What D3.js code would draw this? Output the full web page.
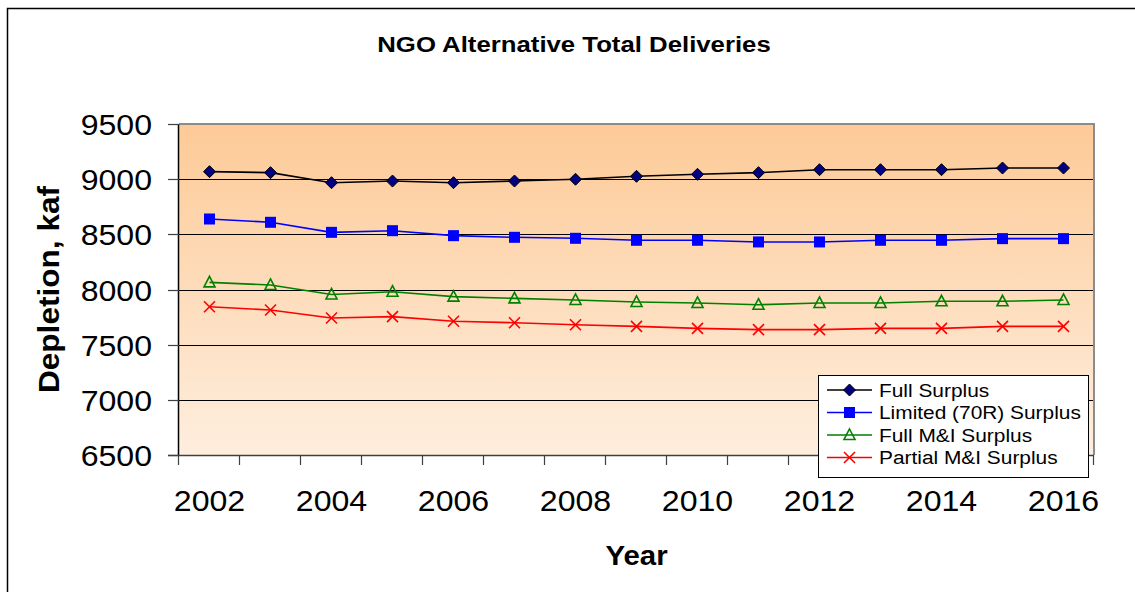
<!DOCTYPE html>
<html><head><meta charset="utf-8">
<script src="https://cdn.jsdelivr.net/npm/d3@7"></script>
<style>body{margin:0;background:#fff}svg{display:block}text{font-family:"Liberation Sans",Arial,sans-serif}</style>
</head><body>
<svg id="c" width="1135" height="592"></svg>
<script>
const years = [2002,2003,2004,2005,2006,2007,2008,2009,2010,2011,2012,2013,2014,2015,2016];
const yTicks = [6500,7000,7500,8000,8500,9000,9500];
const xLabelYears = [2002,2004,2006,2008,2010,2012,2014,2016];
const fullSurplus = [9068,9059,8968,8983,8968,8983,8999,9026,9044,9059,9086,9086,9086,9101,9101];
const limitedSurplus = [8639,8609,8518,8533,8488,8473,8464,8446,8446,8431,8431,8446,8446,8461,8461];
const fullMISurplus = [8065,8041,7955,7980,7935,7920,7905,7887,7878,7862,7878,7878,7893,7893,7905];
const partialMISurplus = [7844,7814,7742,7754,7712,7699,7681,7666,7648,7636,7636,7648,7648,7666,7666];
const seriesNames = ["Full Surplus","Limited (70R) Surplus","Full M&I Surplus","Partial M&I Surplus"];

const series = [
  {name: seriesNames[0], values: fullSurplus, color: "#000000", marker: "diamond"},
  {name: seriesNames[1], values: limitedSurplus, color: "#0000FF", marker: "square"},
  {name: seriesNames[2], values: fullMISurplus, color: "#008000", marker: "triangle"},
  {name: seriesNames[3], values: partialMISurplus, color: "#FF0000", marker: "x"}
];

const svg = d3.select("#c");
const L = 179, R = 1094, T = 124, B = 455;
const x = d3.scaleBand().domain(years).range([L, R]).padding(0);
const y = d3.scaleLinear().domain([6500, 9500]).range([B, T]);
const cx = d => x(d) + x.bandwidth() / 2;

// outer border
svg.append("path").attr("d", "M7.5,600 V8.5 H1140").attr("fill", "none").attr("stroke", "#000").attr("stroke-width", 1.5);

// gradient
const defs = svg.append("defs");
const g = defs.append("linearGradient").attr("id", "bg").attr("x1", 0).attr("y1", 0).attr("x2", 0).attr("y2", 1);
g.append("stop").attr("offset", "0%").attr("stop-color", "#FDCA97");
g.append("stop").attr("offset", "100%").attr("stop-color", "#FEEEDE");
svg.append("rect").attr("x", L).attr("y", T).attr("width", R - L).attr("height", B - T).attr("fill", "url(#bg)");

// gridlines
svg.append("g").selectAll("line").data(yTicks.filter(v => v > 6500 && v < 9500)).join("line")
  .attr("x1", L).attr("x2", R).attr("y1", d => Math.round(y(d)) + 0.5).attr("y2", d => Math.round(y(d)) + 0.5)
  .attr("stroke", "#000").attr("stroke-width", 1);

// plot border top/right gray
svg.append("path").attr("d", `M${L},${T} H${R} V${B}`).attr("fill", "none").attr("stroke", "#8c8c8c").attr("stroke-width", 2);

// y axis
const yAxis = svg.append("g");
yAxis.append("line").attr("x1", L - 0.5).attr("x2", L - 0.5).attr("y1", T).attr("y2", B).attr("stroke", "#000").attr("stroke-width", 1.5);
yAxis.selectAll("line.t").data(yTicks).join("line").attr("class", "t")
  .attr("x1", L - 11).attr("x2", L).attr("y1", d => Math.round(y(d)) + 0.5).attr("y2", d => Math.round(y(d)) + 0.5)
  .attr("stroke", "#404040").attr("stroke-width", 1.2);
yAxis.selectAll("text").data(yTicks).join("text")
  .attr("transform", d => `translate(152,${y(d) + 11}) scale(1.07,1)`)
  .attr("text-anchor", "end").attr("font-size", 30).attr("fill", "#000").text(d => d);

// x axis
const xAxis = svg.append("g");
xAxis.append("line").attr("x1", L - 11).attr("x2", R).attr("y1", B + 0.5).attr("y2", B + 0.5).attr("stroke", "#404040").attr("stroke-width", 1.5);
const bounds = years.map(d => x(d)).concat([x(years[years.length - 1]) + x.bandwidth()]);
xAxis.selectAll("line.t").data(bounds).join("line").attr("class", "t")
  .attr("x1", d => Math.round(d) - 0.5).attr("x2", d => Math.round(d) - 0.5).attr("y1", B).attr("y2", B + 10)
  .attr("stroke", "#404040").attr("stroke-width", 1.2);
xAxis.selectAll("text").data(xLabelYears).join("text")
  .attr("transform", d => `translate(${cx(d)},511) scale(1.07,1)`)
  .attr("text-anchor", "middle").attr("font-size", 30).attr("fill", "#000").text(d => d);

// titles
svg.append("text").attr("transform", "translate(574,52) scale(1.12,1)").attr("text-anchor", "middle")
  .attr("font-size", 23).attr("font-weight", "bold").text("NGO Alternative Total Deliveries");
svg.append("text").attr("transform", `translate(${(L + R) / 2},565) scale(1.09,1)`).attr("text-anchor", "middle")
  .attr("font-size", 27).attr("font-weight", "bold").text("Year");
svg.append("text").attr("transform", `translate(59,${(T + B) / 2}) rotate(-90) scale(1.09,1)`).attr("text-anchor", "middle")
  .attr("font-size", 29).attr("font-weight", "bold").text("Depletion, kaf");

// markers
function drawMarker(sel, type, color) {
  if (type === "diamond") {
    sel.append("path").attr("d", "M0,-6 L6,0 L0,6 L-6,0 Z").attr("fill", "#000080").attr("stroke", "#000").attr("stroke-width", 1);
  } else if (type === "square") {
    sel.append("rect").attr("x", -5.5).attr("y", -5.5).attr("width", 11).attr("height", 11).attr("fill", color).attr("stroke", "none");
  } else if (type === "triangle") {
    sel.append("path").attr("d", "M0,-6 L5.5,4.5 L-5.5,4.5 Z").attr("fill", "none").attr("stroke", color).attr("stroke-width", 1.6);
  } else {
    sel.append("path").attr("d", "M-5.5,-5.5 L5.5,5.5 M-5.5,5.5 L5.5,-5.5").attr("fill", "none").attr("stroke", color).attr("stroke-width", 1.6);
  }
}

const line = d3.line().x((d, i) => cx(years[i])).y(d => y(d));
series.forEach(s => {
  svg.append("path").attr("d", line(s.values)).attr("fill", "none").attr("stroke", s.color).attr("stroke-width", 1.6);
  s.values.forEach((v, i) => {
    const m = svg.append("g").attr("transform", `translate(${cx(years[i])},${y(v)})`);
    drawMarker(m, s.marker, s.color);
  });
});

// legend
const lg = svg.append("g");
lg.append("rect").attr("x", 818.5).attr("y", 375.5).attr("width", 270).attr("height", 102)
  .attr("fill", "#fff").attr("stroke", "#000").attr("stroke-width", 1);
series.forEach((s, i) => {
  const ry = 390 + i * 22.5;
  lg.append("line").attr("x1", 827).attr("x2", 872).attr("y1", ry).attr("y2", ry).attr("stroke", s.color).attr("stroke-width", 1.6);
  const m = lg.append("g").attr("transform", `translate(849.5,${ry})`);
  drawMarker(m, s.marker, s.color);
  lg.append("text").attr("transform", `translate(879,${ry + 6.5}) scale(1.16,1)`).attr("font-size", 18).text(s.name);
});
</script>
</body></html>
